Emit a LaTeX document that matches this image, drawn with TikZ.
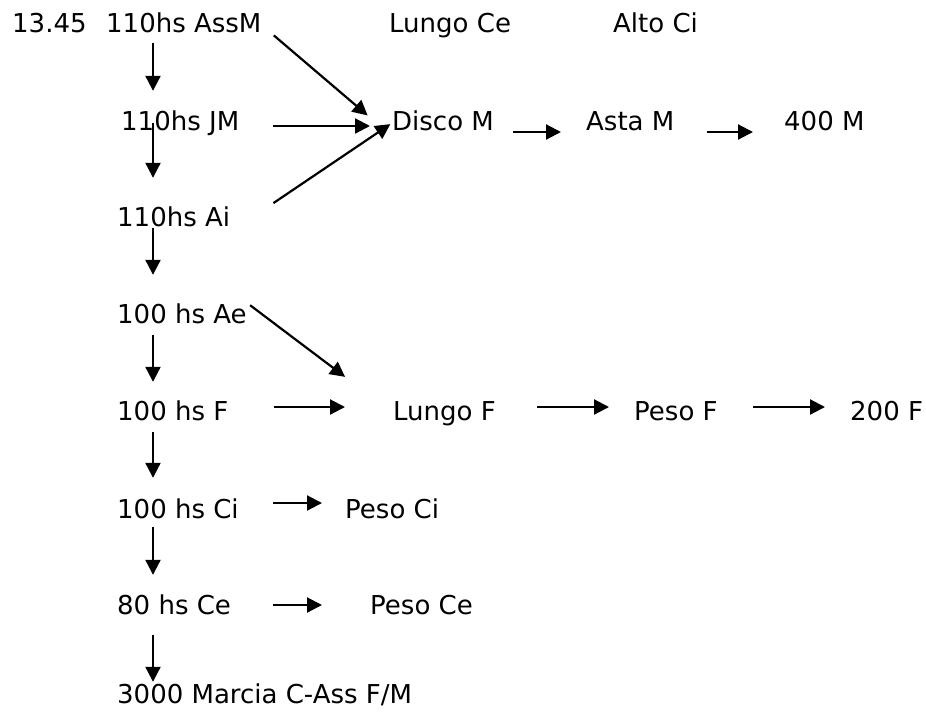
\documentclass[tikz,border=0pt]{standalone}
\usepackage{fontspec}
\setmainfont{DejaVu Sans}
\usetikzlibrary{arrows.meta}
\begin{document}
\begin{tikzpicture}[x=1pt,y=-1pt,
    lbl/.style={anchor=base west,inner sep=0pt,text height=20pt,text depth=6pt,
      font=\fontsize{26}{30}\selectfont},
    arr/.style={line width=2.2pt,-{Triangle[length=15pt,width=15pt]}}]
  \useasboundingbox (0,0) rectangle (926,713);
  \coordinate (col) at (153,0);

  % left column
  \node[lbl] (time) at (12,32) {13.45};
  \node[lbl] (assm) at (106,32) {110hs AssM};
  \node[lbl] (jm) at (121,130) {110hs JM};
  \node[lbl] (ai) at (117,226) {110hs Ai};
  \node[lbl] (ae) at (117,323) {100 hs Ae};
  \node[lbl] (f) at (117,420) {100 hs F};
  \node[lbl] (ci) at (117,518) {100 hs Ci};
  \node[lbl] (ce) at (117,614) {80 hs Ce};
  \node[lbl] (marcia) at (117,703) {3000 Marcia C-Ass F/M};

  % other events
  \node[lbl] (lungoce) at (389,32) {Lungo Ce};
  \node[lbl] (altoci) at (613,32) {Alto Ci};
  \node[lbl] (disco) at (392,130) {Disco M};
  \node[lbl] (asta) at (586,130) {Asta M};
  \node[lbl] (m400) at (784,130) {400 M};
  \node[lbl] (lungof) at (393,420) {Lungo F};
  \node[lbl] (pesof) at (634,420) {Peso F};
  \node[lbl] (f200) at (850,420) {200 F};
  \node[lbl] (pesoci) at (345,518) {Peso Ci};
  \node[lbl] (pesoce) at (370,614) {Peso Ce};

  % down the column
  \foreach \a/\b/\s/\e in {assm/jm/5/19, jm/ai/-13/28, ai/ae/-4/28, ae/f/6/18,
      f/ci/6/20, ci/ce/3/19, ce/marcia/15/1}
    \draw[arr,shorten <=\s pt,shorten >=\e pt] (\a.south -| col) -- (\b.north -| col);

  % across
  \foreach \a/\b/\s/\e/\dy in {jm/disco/34/22/-3, disco/asta/19/25/-9, asta/m400/32/31/-9,
      f/lungof/45/48/6, lungof/pesof/41/25/6, pesof/f200/35/25/6,
      ci/pesoci/34/23/8, ce/pesoce/42/48/2}
    \draw[arr,shorten <=\s pt,shorten >=\e pt] ([yshift=\dy pt]\a.east) -- ([yshift=\dy pt]\b.west);

  \draw[arr,shorten <=16pt,shorten >=32pt] (assm.east) -- (disco.south west);
  \draw[arr,shorten <=52pt,shorten >=2pt] (ai.south east) -- (disco.west);
  \draw[arr,shorten <=4pt,shorten >=60pt] (ae.north east) -- (lungof.west);
\end{tikzpicture}
\end{document}
